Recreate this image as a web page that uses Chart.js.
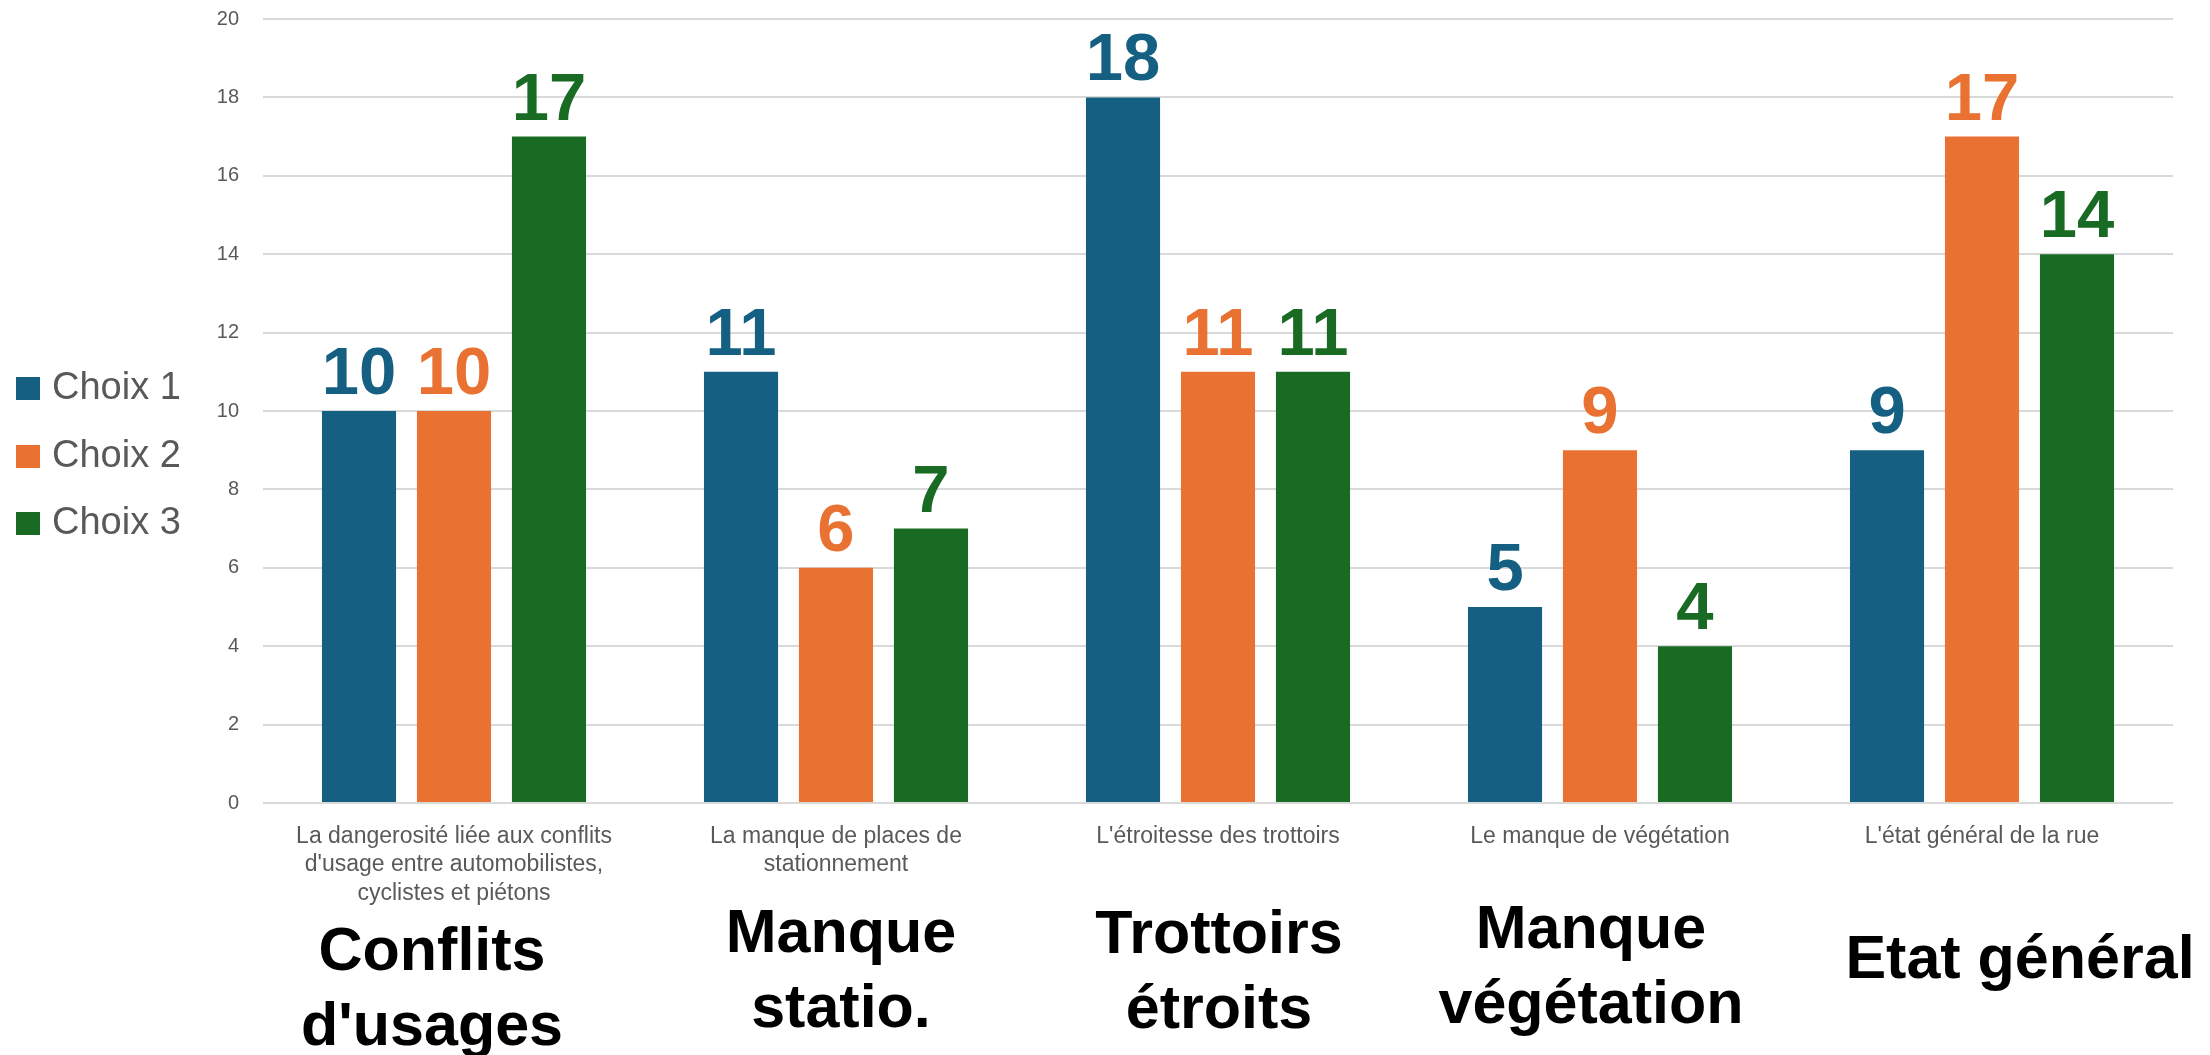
<!DOCTYPE html>
<html lang="fr">
<head>
<meta charset="utf-8">
<title>Choix des problèmes de la rue</title>
<script src="https://cdn.jsdelivr.net/npm/chart.js@4.4.1/dist/chart.umd.min.js"></script>
<style>
  html, body { margin: 0; padding: 0; background: #ffffff; }
  #chart { display: block; }
</style>
</head>
<body>
<canvas id="chart" width="2210" height="1055"></canvas>
<script>
// categories (long labels under the axis, short bold labels below them)
const categories = [
  ["La dangerosité liée aux conflits", "d'usage entre automobilistes,", "cyclistes et piétons"],
  ["La manque de places de", "stationnement"],
  ["L'étroitesse des trottoirs"],
  ["Le manque de végétation"],
  ["L'état général de la rue"],
];
const shortLabels = [
  ["Conflits", "d'usages"],
  ["Manque", "statio."],
  ["Trottoirs", "étroits"],
  ["Manque", "végétation"],
  ["Etat général"],
];

const seriesNames = ["Choix 1", "Choix 2", "Choix 3"];
const choix1 = [10, 11, 18, 5, 9];
const choix2 = [10, 6, 11, 9, 17];
const choix3 = [17, 7, 11, 4, 14];

const yTicks = [0, 2, 4, 6, 8, 10, 12, 14, 16, 18, 20];

const colors = ["#156082", "#E97132", "#196B24"];
const grey = "#595959";
const sans = "'Liberation Sans', Arial, sans-serif";

// value labels above each bar
const barValueLabels = {
  id: "barValueLabels",
  afterDatasetsDraw(chart) {
    const ctx = chart.ctx;
    ctx.save();
    ctx.font = "bold 67px " + sans;
    ctx.textAlign = "center";
    ctx.textBaseline = "alphabetic";
    chart.data.datasets.forEach((ds, i) => {
      const meta = chart.getDatasetMeta(i);
      ctx.fillStyle = ds.backgroundColor;
      meta.data.forEach((bar, j) => {
        ctx.fillText(String(ds.data[j]), bar.x, bar.y - 17);
      });
    });
    ctx.restore();
  },
};

// big bold labels under the category labels
const shortLabelPlugin = {
  id: "shortLabels",
  afterDraw(chart) {
    const ctx = chart.ctx;
    const xScale = chart.scales.x;
    const dx = [-22, 5, 1, -9, 38];
    const firstBaseline = [970, 952, 953, 948, 978];
    ctx.save();
    ctx.font = "bold 61px " + sans;
    ctx.fillStyle = "#000000";
    ctx.textAlign = "center";
    ctx.textBaseline = "alphabetic";
    shortLabels.forEach((lines, i) => {
      const x = xScale.getPixelForTick(i) + dx[i];
      lines.forEach((line, k) => {
        ctx.fillText(line, x, firstBaseline[i] + k * 75);
      });
    });
    ctx.restore();
  },
};

// legend on the left
const sideLegend = {
  id: "sideLegend",
  afterDraw(chart) {
    const ctx = chart.ctx;
    const centers = [389, 457, 524];
    ctx.save();
    ctx.font = "38px " + sans;
    ctx.textBaseline = "middle";
    ctx.textAlign = "left";
    chart.data.datasets.forEach((ds, i) => {
      ctx.fillStyle = ds.backgroundColor;
      ctx.fillRect(16, centers[i] - 12, 24, 23);
      ctx.fillStyle = grey;
      ctx.fillText(ds.label, 52, centers[i]);
    });
    ctx.restore();
  },
};

const ctx = document.getElementById("chart").getContext("2d");

new Chart(ctx, {
  type: "bar",
  data: {
    labels: categories,
    datasets: [
      { label: seriesNames[0], data: choix1, backgroundColor: colors[0] },
      { label: seriesNames[1], data: choix2, backgroundColor: colors[1] },
      { label: seriesNames[2], data: choix3, backgroundColor: colors[2] },
    ],
  },
  options: {
    responsive: false,
    animation: false,
    maintainAspectRatio: false,
    datasets: {
      bar: {
        categoryPercentage: 0.746,
        barPercentage: 0.78,
      },
    },
    layout: {
      padding: { left: 163, right: 37, top: 19, bottom: 0 },
    },
    plugins: {
      legend: { display: false },
      tooltip: { enabled: false },
    },
    scales: {
      x: {
        grid: { display: false },
        border: { display: false },
        ticks: {
          color: grey,
          padding: 11,
          maxRotation: 0,
          autoSkip: false,
          font: { family: sans, size: 23, lineHeight: 1.24 },
        },
        afterFit(scale) {
          scale.height = 252;
        },
      },
      y: {
        min: 0,
        max: 20,
        afterBuildTicks(scale) {
          scale.ticks = yTicks.map((v) => ({ value: v }));
        },
        grid: { color: "#d9d9d9", lineWidth: 2, drawTicks: false },
        border: { display: false },
        ticks: {
          color: grey,
          padding: 24,
          font: { family: sans, size: 20 },
        },
        afterFit(scale) {
          scale.width = 100;
          scale.paddingTop = 0;
          scale.paddingBottom = 0;
        },
      },
    },
  },
  plugins: [barValueLabels, shortLabelPlugin, sideLegend],
});
</script>
</body>
</html>
